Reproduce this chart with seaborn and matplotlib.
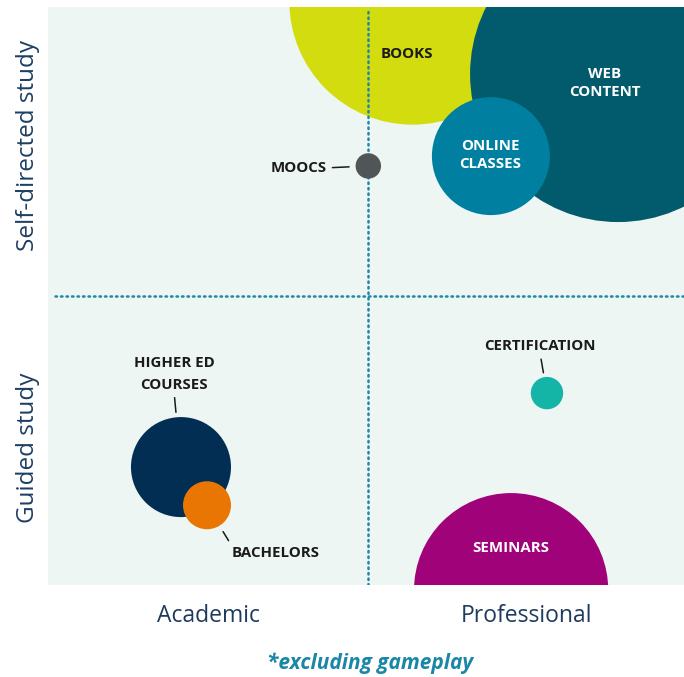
import pandas as pd
import matplotlib
matplotlib.use("Agg")
import matplotlib.pyplot as plt
import seaborn as sns

# bubbles: x runs academic -> professional, y runs guided -> self-directed
names = ["Books", "Web content", "Online classes", "MOOCs",
         "Higher ed courses", "Bachelors", "Certification", "Seminars"]
labels = ["BOOKS", "WEB\nCONTENT", "ONLINE\nCLASSES", "MOOCS",
          "HIGHER ED\nCOURSES", "BACHELORS", "CERTIFICATION", "SEMINARS"]
x_vals = [63.0, 98.6, 76.6, 55.4, 23.0, 27.5, 86.3, 80.1]
y_vals = [101.0, 88.4, 74.2, 72.5, 20.4, 13.8, 33.2, -0.9]
radius = [21.3, 25.6, 10.2, 2.2, 8.65, 4.15, 2.8, 16.8]

x_split = 55.4
y_split = 50.0
x_quadrants = ["Academic", "Professional"]
y_quadrants = ["Guided study", "Self-directed study"]
y_quadrant_pos = [23.8, 76.1]
footnote = "*excluding gameplay"

colors = {"Books": "#D3DC0E", "Web content": "#025B6D", "Online classes": "#017FA1",
          "MOOCs": "#505658", "Higher ed courses": "#022E54", "Bachelors": "#E97603",
          "Certification": "#14B4A6", "Seminars": "#A0027A"}

# label placement (offset from bubble centre in points), inside labels are white
label_style = {
    "Books": dict(off=(-3.6, -38.2), ha="center", color="#1A1A1A", lead=None, ls=1.3),
    "Web content": dict(off=(-9.4, -6.5), ha="center", color="white", lead=None, ls=1.4),
    "Online classes": dict(off=(-0.7, 0.7), ha="center", color="white", lead=None, ls=1.4),
    "MOOCs": dict(off=(-30.2, -1.4), ha="right", color="#1A1A1A", lead=((1, 0.5), 4.7), ls=1.3),
    "Higher ed courses": dict(off=(-5, 67.0), ha="center", color="#1A1A1A", lead=((0.5, 0), 3.6), ls=1.65),
    "Bachelors": dict(off=(18, -34.6), ha="left", color="#1A1A1A", lead=((0, 1), 5.0), ls=1.3),
    "Certification": dict(off=(-5, 33.8), ha="center", color="#1A1A1A", lead=((0.5, 0), 3.2), ls=1.3),
    "Seminars": dict(off=(0, 30.2), ha="center", color="white", lead=None, ls=1.3),
}

df = pd.DataFrame({"name": names, "label": labels, "x": x_vals, "y": y_vals, "r": radius})

sns.set_theme(style="white")
plt.rcParams["font.family"] = ["Open Sans", "DejaVu Sans"]

dpi = 100
fig = plt.figure(figsize=(6.84, 6.77), dpi=dpi)
ax = fig.add_axes([48 / 684, 92 / 677, 636 / 684, 578 / 677])
ax.set_facecolor("#EDF6F2")
ax.set_xlim(0, 110)
ax.set_ylim(0, 100)

# marker area from radius in data units
ppu = ax.bbox.width / 110
pt_per_unit = ppu * 72 / dpi
sizes = {n: (2 * r * pt_per_unit) ** 2 for n, r in zip(names, radius)}

back = df[df["name"] == "Books"]
front = df[df["name"] != "Books"]
sns.scatterplot(data=back, x="x", y="y", hue="name", size="name", sizes=sizes,
                palette=colors, linewidth=0, alpha=1, legend=False, ax=ax, zorder=1)
sns.scatterplot(data=front, x="x", y="y", hue="name", size="name", sizes=sizes,
                palette=colors, linewidth=0, alpha=1, legend=False, ax=ax, zorder=3)

dot = dict(color="#2186A8", lw=1.8, linestyle=(0, (0.6, 1.6)), dash_capstyle="round", zorder=2)
ax.axvline(x_split, ymax=0.995, **dot)
ax.axhline(y_split, xmin=0.011, **dot)

for _, row in df.iterrows():
    st = label_style[row["name"]]
    kw = dict(xy=(row["x"], row["y"]), xytext=st["off"], textcoords="offset points",
              ha=st["ha"], va="center", color=st["color"], fontsize=10.8,
              fontweight="bold", linespacing=st["ls"], zorder=4, annotation_clip=False)
    if st["lead"] is not None:
        relpos, gap = st["lead"]
        kw["arrowprops"] = dict(arrowstyle="-", color="#1A1A1A", lw=1.1, relpos=relpos,
                                shrinkA=2, shrinkB=row["r"] * pt_per_unit + gap)
    ax.annotate(row["label"], **kw)

ax.set_xticks([x_split / 2, (x_split + 110) / 2])
ax.set_xticklabels(x_quadrants)
ax.set_yticks(y_quadrant_pos)
ax.set_yticklabels(y_quadrants, rotation=90, va="center")
ax.tick_params(axis="x", length=0, pad=14, labelsize=16.5, labelcolor="#1E3A5C")
ax.tick_params(axis="y", length=0, pad=6, labelsize=17.5, labelcolor="#1E3F63")
ax.set_xlabel("")
ax.set_ylabel("")
for s in ax.spines.values():
    s.set_visible(False)

fig.text(370 / 684, 1 - 663 / 677, footnote, ha="center", va="center", fontsize=15,
         fontstyle="italic", fontweight="bold", color="#1A87A7")

fig.savefig("out.png", dpi=dpi, facecolor="white")
